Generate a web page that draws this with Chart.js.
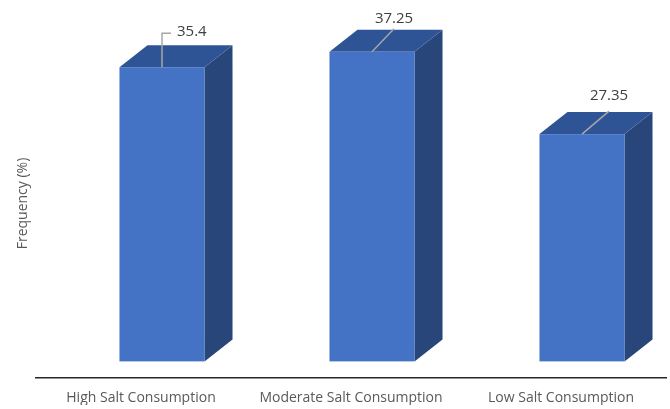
<!DOCTYPE html>
<html>
<head>
<meta charset="utf-8">
<script src="https://cdn.jsdelivr.net/npm/chart.js@4"></script>
<style>
  html, body { margin: 0; padding: 0; background: #fff; }
  #wrap { width: 670px; height: 409px; }
</style>
</head>
<body>
<div id="wrap"><canvas id="saltChart" width="670" height="409"></canvas></div>
<script>
const categories = ['High Salt Consumption', 'Moderate Salt Consumption', 'Low Salt Consumption'];
const frequency = [35.4, 37.25, 27.35];
const valueLabels = ['35.4', '37.25', '27.35'];

// excel style 3d look: front face, top face, side face
const FRONT = '#4472C4';
const TOP = '#2F5496';
const SIDE = '#29467A';
const DEPTH_X = 28;
const DEPTH_Y = 22;
const SHIFT_X = 21;

// where each data label sits relative to the top of its bar
const labelPlacement = [
  { elbow: true, dx: 32, dy: -35 },
  { elbow: false, dx: 22, dy: -33 },
  { elbow: false, dx: 27, dy: -38 }
];

const bars3d = {
  id: 'bars3d',
  afterDatasetsDraw(chart) {
    const ctx = chart.ctx;
    const meta = chart.getDatasetMeta(0);
    ctx.save();
    meta.data.forEach((bar, i) => {
      const w = bar.width;
      const x0 = bar.x - w / 2 + SHIFT_X;
      const x1 = x0 + w;
      const top = bar.y;
      const base = bar.base;

      // side
      ctx.fillStyle = SIDE;
      ctx.beginPath();
      ctx.moveTo(x1, top);
      ctx.lineTo(x1 + DEPTH_X, top - DEPTH_Y);
      ctx.lineTo(x1 + DEPTH_X, base - DEPTH_Y);
      ctx.lineTo(x1, base);
      ctx.closePath();
      ctx.fill();

      // top
      ctx.fillStyle = TOP;
      ctx.beginPath();
      ctx.moveTo(x0, top);
      ctx.lineTo(x0 + DEPTH_X, top - DEPTH_Y);
      ctx.lineTo(x1 + DEPTH_X, top - DEPTH_Y);
      ctx.lineTo(x1, top);
      ctx.closePath();
      ctx.fill();

      // front
      ctx.fillStyle = FRONT;
      ctx.fillRect(x0, top, w, base - top);

      // leader line + value
      const cx = (x0 + x1) / 2;
      const p = labelPlacement[i];
      ctx.strokeStyle = '#A6A6A6';
      ctx.lineWidth = 1.5;
      ctx.beginPath();
      ctx.moveTo(cx, top);
      if (p.elbow) {
        ctx.lineTo(cx, top + p.dy + 1);
        ctx.lineTo(cx + 9, top + p.dy + 1);
      } else {
        ctx.lineTo(cx + p.dx, top - DEPTH_Y - 1);
      }
      ctx.stroke();

      ctx.fillStyle = '#404040';
      ctx.font = '15px "Open Sans"';
      ctx.textBaseline = 'middle';
      if (p.elbow) {
        ctx.textAlign = 'left';
        ctx.fillText(valueLabels[i], cx + 15, top + p.dy);
      } else {
        ctx.textAlign = 'center';
        ctx.fillText(valueLabels[i], cx + p.dx, top + p.dy);
      }
    });
    ctx.restore();
  }
};

new Chart(document.getElementById('saltChart'), {
  type: 'bar',
  data: {
    labels: categories,
    datasets: [{
      label: 'Frequency (%)',
      data: frequency,
      backgroundColor: 'rgba(0,0,0,0)',
      borderWidth: 0,
      categoryPercentage: 1,
      barPercentage: 0.405
    }]
  },
  options: {
    responsive: false,
    animation: false,
    layout: { padding: { top: 29, left: 11, right: 4, bottom: 4 } },
    plugins: {
      legend: { display: false },
      tooltip: { enabled: false }
    },
    scales: {
      x: {
        grid: { display: false, drawTicks: false },
        border: { color: '#262626', width: 1.5 },
        afterFit(scale) { scale.height = 27; },
        ticks: {
          color: '#595959',
          font: { family: 'Open Sans', size: 14 },
          padding: 12,
          maxRotation: 0
        }
      },
      y: {
        min: -2,
        max: 40,
        grid: { display: false },
        border: { display: false },
        ticks: { display: false },
        afterFit(scale) { scale.width = 25; },
        title: {
          display: true,
          text: 'Frequency (%)',
          color: '#595959',
          font: { family: 'Open Sans', size: 14 },
          padding: { top: 4, bottom: 4 }
        }
      }
    }
  },
  plugins: [bars3d]
});
</script>
</body>
</html>
